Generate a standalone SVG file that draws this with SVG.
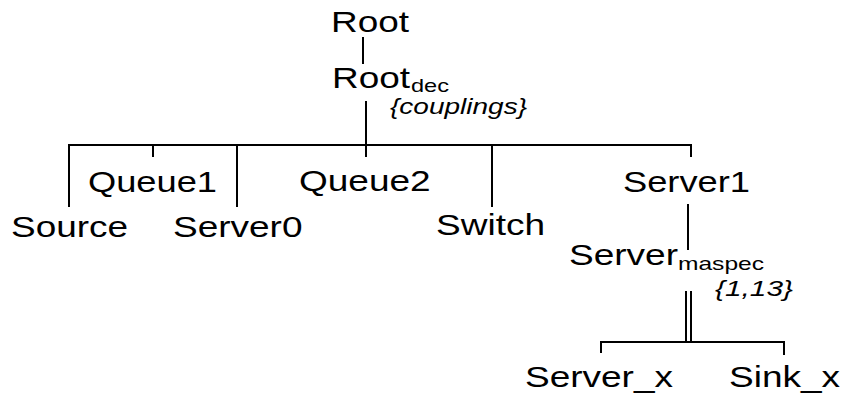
<svg xmlns="http://www.w3.org/2000/svg" width="845" height="397" viewBox="0 0 845 397">
  <style>
    .lbl { font-family: "Liberation Sans", Arial, sans-serif; font-size: 29px; fill: #000; }
    .sub { font-family: "Liberation Sans", Arial, sans-serif; font-size: 19px; fill: #000; }
    .note { font-family: "Liberation Sans", Arial, sans-serif; font-size: 22px; font-style: italic; fill: #000; }
    .edge { stroke: #000; stroke-width: 2; fill: none; }
  </style>
  <rect width="845" height="397" fill="#fff"/>

  <g id="connectors">
    <line class="edge" x1="363" y1="37" x2="363" y2="64"/>
    <line class="edge" x1="366" y1="101" x2="366" y2="157"/>
    <polyline class="edge" points="69,207 69,145 691,145 691,157"/>
    <line class="edge" x1="153" y1="145" x2="153" y2="157"/>
    <line class="edge" x1="237" y1="145" x2="237" y2="207"/>
    <line class="edge" x1="492" y1="145" x2="492" y2="207"/>
    <line class="edge" x1="688" y1="204" x2="688" y2="250"/>
    <!-- multiple-aspect link drawn as a double line -->
    <line class="edge" x1="686" y1="291" x2="686" y2="342"/>
    <line class="edge" x1="691" y1="291" x2="691" y2="342"/>
    <polyline class="edge" points="601,353 601,342 784,342 784,355"/>
  </g>

  <g id="root"><text class="lbl" x="331" y="32" textLength="78" lengthAdjust="spacingAndGlyphs">Root</text></g>
  <g id="root-dec">
    <text class="lbl" x="332" y="88" textLength="78" lengthAdjust="spacingAndGlyphs">Root</text>
    <text class="sub" x="411" y="92" textLength="38" lengthAdjust="spacingAndGlyphs">dec</text>
    <text class="note" x="390" y="114" textLength="137" lengthAdjust="spacingAndGlyphs">{couplings}</text>
  </g>
  <g id="source"><text class="lbl" x="11" y="237" textLength="117" lengthAdjust="spacingAndGlyphs">Source</text></g>
  <g id="queue1"><text class="lbl" x="88" y="192" textLength="129" lengthAdjust="spacingAndGlyphs">Queue1</text></g>
  <g id="server0"><text class="lbl" x="173" y="237" textLength="129.5" lengthAdjust="spacingAndGlyphs">Server0</text></g>
  <g id="queue2"><text class="lbl" x="299" y="191" textLength="131.6" lengthAdjust="spacingAndGlyphs">Queue2</text></g>
  <g id="switch"><text class="lbl" x="436" y="235" textLength="109" lengthAdjust="spacingAndGlyphs">Switch</text></g>
  <g id="server1"><text class="lbl" x="623" y="192" textLength="127" lengthAdjust="spacingAndGlyphs">Server1</text></g>
  <g id="server-maspec">
    <text class="lbl" x="569" y="265" textLength="109" lengthAdjust="spacingAndGlyphs">Server</text>
    <text class="sub" x="678" y="270" textLength="86" lengthAdjust="spacingAndGlyphs">maspec</text>
    <text class="note" x="715" y="296" textLength="78" lengthAdjust="spacingAndGlyphs">{1,13}</text>
  </g>
  <g id="server-x"><text class="lbl" x="525" y="387" textLength="148" lengthAdjust="spacingAndGlyphs">Server_x</text></g>
  <g id="sink-x"><text class="lbl" x="729" y="387" textLength="111" lengthAdjust="spacingAndGlyphs">Sink_x</text></g>
</svg>
